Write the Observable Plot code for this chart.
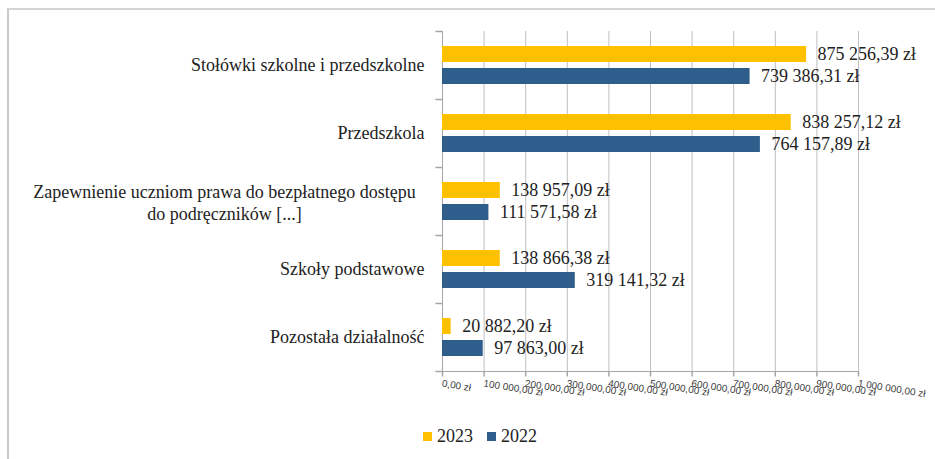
<!DOCTYPE html>
<html><head><meta charset="utf-8">
<script src="https://cdn.jsdelivr.net/npm/d3@7"></script>
<script src="https://cdn.jsdelivr.net/npm/@observablehq/plot@0.6"></script>
<style>
body{margin:0;background:#fff;width:935px;height:459px;position:relative;overflow:hidden;}
#frame{position:absolute;left:7px;top:8px;width:940px;height:460px;border-top:2px solid #d4d4d4;border-left:2px solid #c8c8c8;}
#chart{position:absolute;left:0;top:0;}
#legend{position:absolute;top:426px;left:0;width:960px;display:flex;justify-content:center;align-items:center;font-family:"Liberation Serif","Times New Roman","DejaVu Serif",serif;font-size:18px;color:#222;}
#legend .item{display:flex;align-items:center;margin:0 7px;}
#legend .sw{width:9px;height:9px;margin-right:5px;}
svg text{font-family:"Liberation Serif","Times New Roman","DejaVu Serif",serif;}
svg g.xticklabels text{font-family:"Liberation Sans",Arial,sans-serif;}
</style></head>
<body>
<div id="frame"></div>
<div id="chart"></div>
<div id="legend"></div>
<script>
const categories = ["Stołówki szkolne i przedszkolne","Przedszkola","Zapewnienie uczniom prawa do bezpłatnego dostępu do podręczników [...]","Szkoły podstawowe","Pozostała działalność"];
const categoryLabels = ["Stołówki szkolne i przedszkolne","Przedszkola","Zapewnienie uczniom prawa do bezpłatnego dostępu\ndo podręczników [...]","Szkoły podstawowe","Pozostała działalność"];
const years = ["2023","2022"];
const values2023 = [875256.39, 838257.12, 138957.09, 138866.38, 20882.20];
const values2022 = [739386.31, 764157.89, 111571.58, 319141.32, 97863.00];
const xTicks = [0,100000,200000,300000,400000,500000,600000,700000,800000,900000,1000000];
const colors = ["#FFC000","#2F5D8C"];

const pl = d3.formatLocale({decimal:",", thousands:"\u00a0", grouping:[3], currency:["","\u00a0zł"]});
const fmt = pl.format("$,.2f");

const data = categories.flatMap((c,i)=>[
  {cat:c, year:years[0], value:values2023[i]},
  {cat:c, year:years[1], value:values2022[i]}
]);
const labelOf = new Map(categories.map((c,i)=>[c, categoryLabels[i]]));
const singleLine = categories.filter(c=>!labelOf.get(c).includes("\n"));
const multiLine = categories.filter(c=>labelOf.get(c).includes("\n"));
const lastCat = categories[categories.length-1];

const leftTick = {draw(ctx, size){ const l = Math.sqrt(size); ctx.moveTo(-l,0); ctx.lineTo(0,0); }};
const downTick = {draw(ctx, size){ const l = Math.sqrt(size); ctx.moveTo(0,0); ctx.lineTo(0,l); }};
const axisGray = "#a6a6a6";
const serif = "Liberation Serif, Times New Roman, DejaVu Serif, serif";

const chart = Plot.plot({
  width:935, height:415,
  marginTop:30, marginBottom:44, marginLeft:442, marginRight:77,
  style:{background:"transparent", overflow:"visible"},
  x:{domain:[0,1000000], label:null, axis:null},
  y:{domain:years, paddingInner:0.26, paddingOuter:0.62, axis:null},
  fy:{domain:categories, padding:0, axis:null},
  color:{domain:years, range:colors},
  marks:[
    Plot.gridX(xTicks, {stroke:"#bfbfbf", strokeOpacity:1}),
    Plot.ruleX([0], {stroke:axisGray}),
    Plot.frame({anchor:"bottom", facetAnchor:"bottom", stroke:axisGray}),
    Plot.dot(xTicks.map(v=>({v, cat:lastCat})), {x:"v", fy:"cat", frameAnchor:"bottom", symbol:downTick, r:2.8, stroke:axisGray, fill:"none"}),
    Plot.text(xTicks.map(v=>({v, cat:lastCat})), {x:"v", fy:"cat", frameAnchor:"bottom", text:d=>fmt(d.v), rotate:9, textAnchor:"start", lineAnchor:"top", dy:8, fontSize:10, fill:"#404040", className:"xticklabels"}),
    Plot.dot(categories, {fy:d=>d, frameAnchor:"top-left", symbol:leftTick, r:4, stroke:axisGray, fill:"none"}),
    Plot.dot([lastCat], {fy:d=>d, frameAnchor:"bottom-left", symbol:leftTick, r:4, stroke:axisGray, fill:"none"}),
    Plot.barX(data, {fy:"cat", y:"year", x:"value", fill:"year"}),
    Plot.text(data, {fy:"cat", y:"year", x:"value", text:d=>fmt(d.value), dx:11, textAnchor:"start", fontSize:18, fontFamily:serif, fill:"#222"}),
    Plot.text(singleLine, {fy:d=>d, text:d=>labelOf.get(d), frameAnchor:"left", textAnchor:"end", dx:-18, fontSize:18, fontFamily:serif, fill:"#222"}),
    Plot.text(multiLine, {fy:d=>d, text:d=>labelOf.get(d), frameAnchor:"left", textAnchor:"middle", dx:-218, fontSize:18, fontFamily:serif, lineHeight:1.22, fill:"#222"})
  ]
});
document.getElementById("chart").appendChild(chart);

const legend = document.getElementById("legend");
years.forEach((y,i)=>{
  const it = document.createElement("div"); it.className="item";
  const sw = document.createElement("div"); sw.className="sw"; sw.style.background=colors[i];
  const t = document.createElement("span"); t.textContent=y;
  it.appendChild(sw); it.appendChild(t); legend.appendChild(it);
});
</script>
</body></html>
